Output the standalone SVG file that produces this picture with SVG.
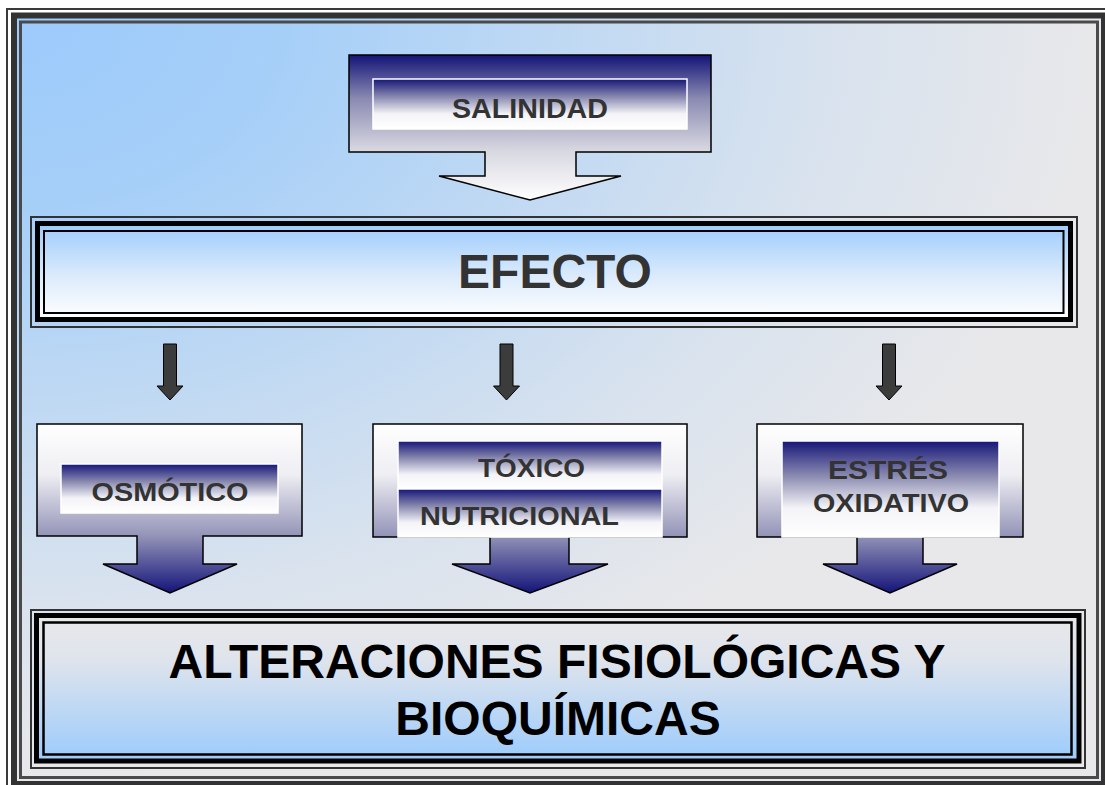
<svg xmlns="http://www.w3.org/2000/svg" width="1105" height="785" viewBox="0 0 1105 785">
<defs>
<radialGradient id="bg" cx="0" cy="0" r="1" fx="0" fy="0" gradientUnits="objectBoundingBox">
<stop offset="0" stop-color="#9ccafc"/>
<stop offset="0.25" stop-color="#a6cff8"/>
<stop offset="0.75" stop-color="#d8e2ee"/>
<stop offset="1" stop-color="#e8e8ea"/>
</radialGradient>
<linearGradient id="navyDown" x1="0" y1="0" x2="0" y2="1">
<stop offset="0" stop-color="#141478"/>
<stop offset="0.3" stop-color="#8a8ab2"/>
<stop offset="0.65" stop-color="#d6d6e0"/>
<stop offset="1" stop-color="#ffffff"/>
</linearGradient>
<linearGradient id="navyUp" x1="0" y1="0" x2="0" y2="1">
<stop offset="0" stop-color="#ffffff"/>
<stop offset="0.3" stop-color="#eeeef3"/>
<stop offset="0.66" stop-color="#9494b8"/>
<stop offset="1" stop-color="#14147a"/>
</linearGradient>
<linearGradient id="inner" x1="0" y1="0" x2="0" y2="1">
<stop offset="0" stop-color="#161679"/>
<stop offset="0.35" stop-color="#8686ae"/>
<stop offset="0.7" stop-color="#f4f4f8"/>
<stop offset="1" stop-color="#ffffff"/>
</linearGradient>
<linearGradient id="blueWhite" x1="0" y1="0" x2="0" y2="1">
<stop offset="0" stop-color="#9ccbfc"/>
<stop offset="0.55" stop-color="#dcebfc"/>
<stop offset="1" stop-color="#ffffff"/>
</linearGradient>
<linearGradient id="grayBlue" x1="0" y1="0" x2="0" y2="1">
<stop offset="0" stop-color="#e8e8ea"/>
<stop offset="0.3" stop-color="#dfe4ec"/>
<stop offset="1" stop-color="#9ccbfc"/>
</linearGradient>
</defs>
<style>
.shape{stroke:#000;stroke-width:1.5}
.inbox{fill:url(#inner);stroke:#fff;stroke-width:1.5}
.lbl{font-family:"Liberation Sans",Arial,sans-serif;font-weight:bold;fill:#333;text-anchor:middle}
.big{font-family:"Liberation Sans",Arial,sans-serif;font-weight:bold;fill:#000;text-anchor:middle;font-size:48px}
.arrow{fill:#3c3c3c;stroke:#000;stroke-width:1}
</style>
<rect x="0" y="0" width="1105" height="785" fill="#ffffff"/>
<g id="frame">
<rect x="14" y="15.5" width="1090" height="768.5" fill="url(#bg)"/>
<rect x="7" y="9" width="1104" height="782" fill="none" stroke="#3a3a3a" stroke-width="2"/>
<rect x="14" y="15.5" width="1090" height="768.5" fill="none" stroke="#333" stroke-width="6"/>
<rect x="20.5" y="22" width="1077" height="755.5" fill="none" stroke="#4a4a4a" stroke-width="3"/>
</g>
<g id="salinidad">
<path class="shape" fill="url(#navyDown)" d="M349,55 H711 V152 H576 V176 H621 L530,200 L439,176 H485 V152 H349 Z"/>
<rect class="inbox" x="373" y="79" width="314" height="50"/>
<text class="lbl" x="530" y="118" font-size="27" textLength="156" lengthAdjust="spacingAndGlyphs">SALINIDAD</text>
</g>
<g id="efecto">
<rect x="37.5" y="223.5" width="1033" height="96" fill="url(#blueWhite)" stroke="#000" stroke-width="5"/>
<rect x="44" y="231" width="1019.5" height="82" fill="none" stroke="#000" stroke-width="2"/>
<rect x="31" y="217" width="1046" height="110" fill="none" stroke="#333" stroke-width="2"/>
<text class="lbl" x="555" y="288" font-size="48">EFECTO</text>
</g>
<g id="connectors">
<path class="arrow" d="M163.5,344 H176.5 V386 H183 L170,400 L157,386 H163.5 Z"/>
<path class="arrow" d="M500,344 H513 V386 H519.5 L506.5,400 L493.5,386 H500 Z"/>
<path class="arrow" d="M882.5,344 H895.5 V386 H902 L889,400 L876,386 H882.5 Z"/>
</g>
<g id="osmotico">
<path class="shape" fill="url(#navyUp)" d="M37,424 H302 V536 H203 V564 H237 L170,593 L103,564 H137 V536 H37 Z"/>
<rect class="inbox" x="61" y="464" width="217" height="49"/>
<text class="lbl" x="170" y="501" font-size="26" textLength="157" lengthAdjust="spacingAndGlyphs">OSMÓTICO</text>
</g>
<g id="toxico">
<path class="shape" fill="url(#navyUp)" d="M373,424 H687 V537 H569 V564 H608 L530,593 L452,564 H490 V537 H373 Z"/>
<rect class="inbox" x="398" y="441" width="264" height="48"/>
<rect class="inbox" x="398" y="489" width="264" height="48"/>
<text class="lbl" x="531.5" y="477" font-size="26" textLength="107" lengthAdjust="spacingAndGlyphs">TÓXICO</text>
<text class="lbl" x="519.5" y="525" font-size="26" textLength="199" lengthAdjust="spacingAndGlyphs">NUTRICIONAL</text>
</g>
<g id="estres">
<path class="shape" fill="url(#navyUp)" d="M757,424 H1023 V537 H923 V564 H957 L890,593 L823,564 H857 V537 H757 Z"/>
<rect class="inbox" x="782" y="441" width="217" height="96"/>
<text class="lbl" x="888" y="479" font-size="26" textLength="120" lengthAdjust="spacingAndGlyphs">ESTRÉS</text>
<text class="lbl" x="891" y="512" font-size="26" textLength="156" lengthAdjust="spacingAndGlyphs">OXIDATIVO</text>
</g>
<g id="alteraciones">
<rect x="36.5" y="615.5" width="1042.5" height="145.5" fill="url(#grayBlue)" stroke="#000" stroke-width="5"/>
<rect x="43.5" y="622.5" width="1028" height="132" fill="none" stroke="#000" stroke-width="2.5"/>
<rect x="31" y="610" width="1054" height="158" fill="none" stroke="#333" stroke-width="2"/>
<text class="big" x="557" y="678">ALTERACIONES FISIOLÓGICAS Y</text>
<text class="big" x="558" y="735">BIOQUÍMICAS</text>
</g>
</svg>
